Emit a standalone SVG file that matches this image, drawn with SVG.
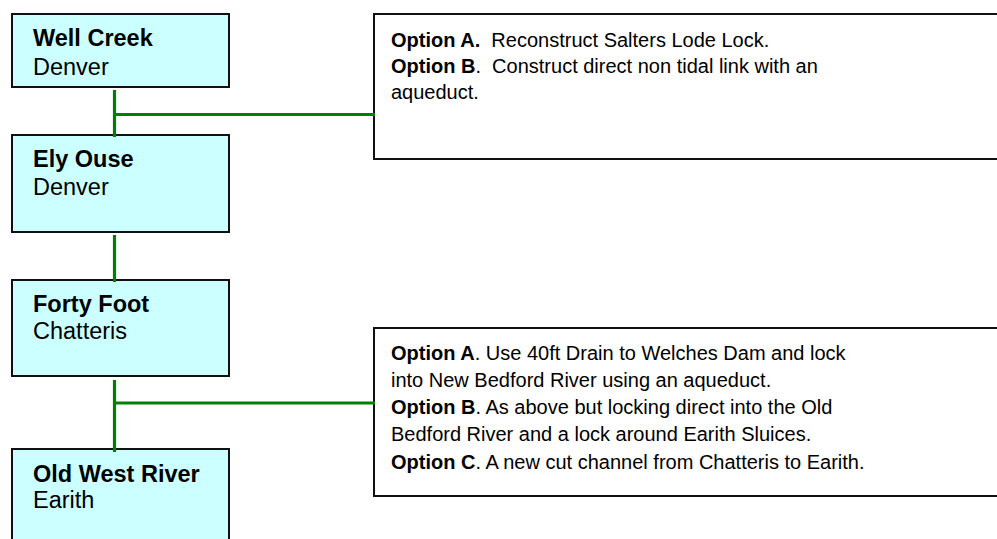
<svg xmlns="http://www.w3.org/2000/svg" width="997" height="539" viewBox="0 0 997 539">
  <style>
    .node { fill: #CCFFFF; stroke: #111111; stroke-width: 2; }
    .note { fill: #FFFFFF; stroke: #111111; stroke-width: 2; }
    .title { font-family: "Liberation Sans", Arial, sans-serif; font-size: 23.5px; font-weight: bold; fill: #000; }
    .place { font-family: "Liberation Sans", Arial, sans-serif; font-size: 23.5px; fill: #000; }
    .txt { font-family: "Liberation Sans", Arial, sans-serif; font-size: 20px; fill: #000; white-space: pre; }
    .b { font-weight: bold; }
    .link { stroke: #008000; stroke-width: 3.2; fill: none; }
  </style>
  <rect width="997" height="539" fill="#FFFFFF"/>

  <!-- river sections -->
  <g id="well-creek">
    <rect class="node" x="12" y="14" width="217" height="73"/>
    <text class="title" x="33" y="46">Well Creek</text>
    <text class="place" x="33" y="75">Denver</text>
  </g>
  <g id="ely-ouse">
    <rect class="node" x="12" y="135" width="217" height="97"/>
    <text class="title" x="33" y="167">Ely Ouse</text>
    <text class="place" x="33" y="195">Denver</text>
  </g>
  <g id="forty-foot">
    <rect class="node" x="12" y="280" width="217" height="96"/>
    <text class="title" x="33" y="312">Forty Foot</text>
    <text class="place" x="33" y="339">Chatteris</text>
  </g>
  <g id="old-west-river">
    <rect class="node" x="12" y="449" width="217" height="110"/>
    <text class="title" x="33" y="482">Old West River</text>
    <text class="place" x="33" y="508">Earith</text>
  </g>

  <!-- option notes -->
  <g id="options-denver">
    <rect class="note" x="374" y="14" width="640" height="145"/>
    <text class="txt" x="391" y="46.5"><tspan class="b">Option A.</tspan>  Reconstruct Salters Lode Lock.</text>
    <text class="txt" x="391" y="72.5"><tspan class="b">Option B</tspan>.  Construct direct non tidal link with an</text>
    <text class="txt" x="391" y="98.5">aqueduct.</text>
  </g>
  <g id="options-earith">
    <rect class="note" x="374" y="328" width="640" height="168"/>
    <text class="txt" x="391" y="359.5"><tspan class="b">Option A</tspan>. Use 40ft Drain to Welches Dam and lock</text>
    <text class="txt" x="391" y="386.5">into New Bedford River using an aqueduct.</text>
    <text class="txt" x="391" y="413.5"><tspan class="b">Option B</tspan>. As above but locking direct into the Old</text>
    <text class="txt" x="391" y="441">Bedford River and a lock around Earith Sluices.</text>
    <text class="txt" x="391" y="468.5"><tspan class="b">Option C</tspan>. A new cut channel from Chatteris to Earith.</text>
  </g>

  <!-- connectors -->
  <g id="connectors">
    <line class="link" x1="114.5" y1="90" x2="114.5" y2="137"/>
    <line class="link" x1="113" y1="114.5" x2="375" y2="114.5"/>
    <line class="link" x1="114.5" y1="235" x2="114.5" y2="282"/>
    <line class="link" x1="114.5" y1="380" x2="114.5" y2="452"/>
    <line class="link" x1="113" y1="403" x2="375" y2="403"/>
  </g>
</svg>
